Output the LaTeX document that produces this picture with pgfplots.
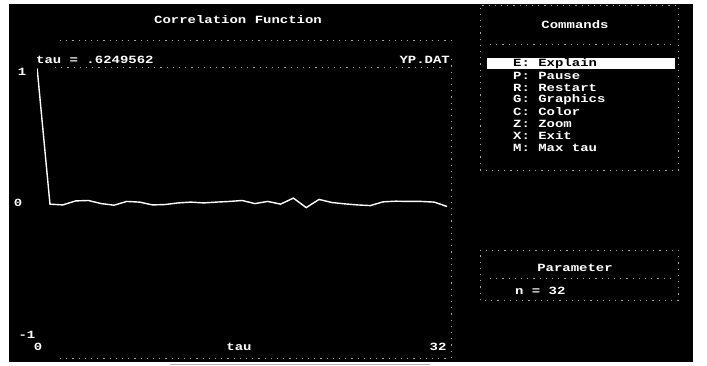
\documentclass[border=0pt]{standalone}
\usepackage{pgfplots}
\pgfplotsset{compat=1.18}
\usepackage{fontspec}
\setmainfont{Liberation Mono}[FakeStretch=1.27]
\begin{document}
\begin{tikzpicture}[x=1pt,y=1pt,
  txt/.style={text=white,inner sep=0pt,font=\bfseries\fontsize{11}{12}\selectfont},
  dl/.style={draw=gray!70,line width=0.8pt,dash pattern=on 1.2pt off 5pt}]
\useasboundingbox (0,0) rectangle (707,366);
\fill[white] (0,0) rectangle (707,366);
\fill[black] (9,4) rectangle (693,362);
\draw[gray!60,line width=1pt] (170,1.5) -- (430,1.5);
% left panel
\node[txt] at (238,346) {Correlation Function};
\draw[dl] (60,326) -- (455,326);
\node[txt,anchor=west] at (36,306) {tau = .6249562};
\node[txt,anchor=east] at (450,306) {YP.DAT};
\draw[dl] (55,299) -- (445,299);
\draw[dl] (451,8) -- (451,311);
\draw[dl] (60,8) -- (450,8);
\node[txt] at (22,294) {1};
\node[txt] at (18,163) {0};
\node[txt] at (27,31) {-1};
\node[txt] at (38,19) {0};
\node[txt] at (239,19) {tau};
\node[txt] at (438,19) {32};
\begin{axis}[at={(29,22)},anchor=south west,scale only axis,
  width=410pt,height=268pt,xmin=0,xmax=32,ymin=-1,ymax=1,hide axis]
\addplot[white,line width=1.4pt] coordinates {
(0,1.0) (1,-0.012) (2,-0.018) (3,0.012) (4,0.015) (5,-0.008) (6,-0.02)
(7,0.008) (8,0.003) (9,-0.018) (10,-0.015) (11,-0.003) (12,0.003)
(13,-0.003) (14,0.003) (15,0.008) (16,0.015) (17,-0.008) (18,0.008)
(19,-0.012) (20,0.033) (21,-0.038) (22,0.023) (23,0) (24,-0.01)
(25,-0.018) (26,-0.023) (27,0.005) (28,0.01) (29,0.008) (30,0.008)
(31,0.003) (32,-0.03)};
\end{axis}
% commands panel
\draw[dl] (480,196) rectangle (678,361);
\node[txt] at (575,341) {Commands};
\draw[dl] (490,322) -- (672,322);
\fill[white] (487,297) rectangle (675,308);
\node[txt,anchor=west,text=black] at (513,302) {E: Explain};
\node[txt,anchor=west] at (513,290) {P: Pause};
\node[txt,anchor=west] at (513,278) {R: Restart};
\node[txt,anchor=west] at (513,266) {G: Graphics};
\node[txt,anchor=west] at (513,254) {C: Color};
\node[txt,anchor=west] at (513,242) {Z: Zoom};
\node[txt,anchor=west] at (513,230) {X: Exit};
\node[txt,anchor=west] at (513,218) {M: Max tau};
% parameter panel
\draw[dl] (480,66) rectangle (678,116);
\node[txt] at (575,98) {Parameter};
\draw[dl] (490,88) -- (672,88);
\node[txt,anchor=west] at (515,75) {n = 32};
\end{tikzpicture}
\end{document}
